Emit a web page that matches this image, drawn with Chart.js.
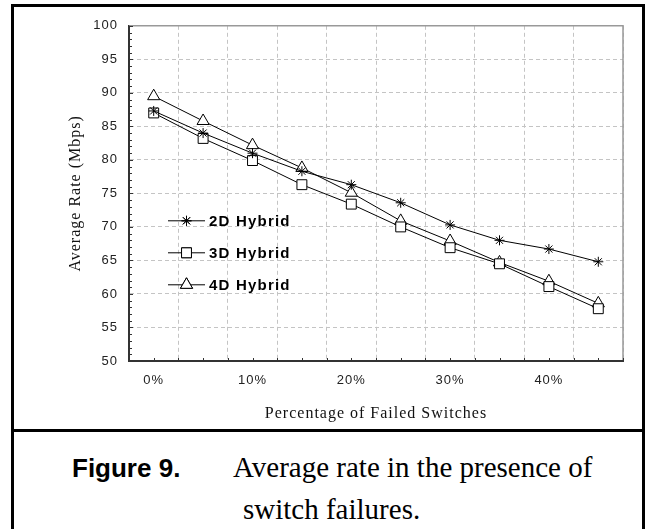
<!DOCTYPE html>
<html>
<head>
<meta charset="utf-8">
<script src="https://cdn.jsdelivr.net/npm/chart.js@4.4.1/dist/chart.umd.min.js"></script>
<style>
  body { margin: 0; background: #fff; width: 652px; height: 529px; overflow: hidden; position: relative; }
  #frame { position: absolute; left: 11px; top: 4px; width: 628px; height: 560px; border: 3px solid #000; }
  #sep { position: absolute; left: 11px; top: 429px; width: 634px; height: 3px; background: #000; }
  #chart { position: absolute; left: 14px; top: 7px; }
  .cap { position: absolute; line-height: 1; white-space: nowrap; color: #000; }
  #fig { left: 72px; top: 453px; font: bold 26px "Liberation Sans", Arial, sans-serif; }
  #l1 { left: 233px; top: 451px; font: 29px "Liberation Serif", "Times New Roman", serif; }
  #l2 { left: 243px; top: 493px; font: 29px "Liberation Serif", "Times New Roman", serif; }
</style>
</head>
<body>
<div id="frame"></div>
<div id="sep"></div>
<canvas id="chart" width="628" height="422"></canvas>
<div class="cap" id="fig">Figure 9.</div>
<div class="cap" id="l1">Average rate in the presence of</div>
<div class="cap" id="l2">switch failures.</div>
<script>
const categories = ['0%', '5%', '10%', '15%', '20%', '25%', '30%', '35%', '40%', '45%'];
const hybrid2D = [87.3, 84.0, 81.0, 78.3, 76.3, 73.6, 70.3, 68.0, 66.7, 64.8];
const hybrid3D = [87.0, 83.2, 79.9, 76.3, 73.4, 70.0, 66.9, 64.5, 61.1, 57.8];
const hybrid4D = [89.5, 85.8, 82.2, 78.8, 75.1, 70.9, 67.9, 64.7, 61.9, 58.6];

const scaleText = {
    id: 'scaleText',
    beforeDraw(chart) { chart.ctx.letterSpacing = '1px'; },
    beforeDatasetsDraw(chart) { chart.ctx.letterSpacing = '0px'; }
};

// minor ticks and plot frame
const frameTicks = {
    id: 'frameTicks',
    afterDatasetsDraw(chart) {
        const ctx = chart.ctx;
        const a = chart.chartArea;
        const x = chart.scales.x, y = chart.scales.y;
        ctx.save();
        ctx.strokeStyle = '#999';
        ctx.lineWidth = 1.5;
        ctx.beginPath();
        ctx.moveTo(a.left, a.top); ctx.lineTo(a.right, a.top); ctx.lineTo(a.right, a.bottom);
        ctx.stroke();
        ctx.strokeStyle = '#333';
        ctx.lineWidth = 1;
        ctx.beginPath();
        for (let v = 50; v <= 100; v++) {
            const py = Math.round(y.getPixelForValue(v)) + 0.5;
            ctx.moveTo(a.left, py); ctx.lineTo(a.left + (v % 5 === 0 ? 4 : 3), py);
        }
        for (let i = -0.5; i <= categories.length - 0.5; i += 0.5) {
            const px = Math.round(x.getPixelForValue(i)) + 0.5;
            ctx.moveTo(px, a.bottom); ctx.lineTo(px, a.bottom - 3);
        }
        ctx.stroke();
        ctx.lineWidth = 2;
        ctx.beginPath();
        ctx.moveTo(a.left, a.top); ctx.lineTo(a.left, a.bottom); ctx.lineTo(a.right, a.bottom);
        ctx.stroke();
        ctx.restore();
    }
};

// legend drawn inside the plot, left side
const innerLegend = {
    id: 'innerLegend',
    afterDraw(chart) {
        const ctx = chart.ctx;
        const a = chart.chartArea;
        ctx.save();
        ctx.font = 'bold 15px "Liberation Sans", Arial, sans-serif';
        ctx.letterSpacing = '1.2px';
        ctx.textBaseline = 'middle';
        ctx.fillStyle = '#000';
        chart.data.datasets.forEach((ds, i) => {
            const x0 = a.left + 39, yy = a.top + 195 + i * 32;
            ctx.strokeStyle = '#000';
            ctx.lineWidth = 1;
            ctx.beginPath();
            ctx.moveTo(x0, yy); ctx.lineTo(x0 + 37, yy);
            ctx.stroke();
            Chart.helpers.drawPoint(ctx, {
                pointStyle: ds.pointStyle, radius: ds.pointRadius, rotation: 0, borderWidth: 1
            }, x0 + 18.5, yy);
            ctx.fillStyle = '#fff';
            ctx.fill();
            ctx.stroke();
            ctx.fillStyle = '#000';
            ctx.fillText(ds.label, x0 + 41, yy + 1);
        });
        ctx.restore();
    }
};

function series(label, data, style, r) {
    return {
        label: label,
        data: data,
        borderColor: '#000',
        borderWidth: 1,
        backgroundColor: '#fff',
        pointStyle: style,
        pointRadius: r,
        pointHoverRadius: r,
        pointBorderColor: '#000',
        pointBackgroundColor: '#fff',
        pointBorderWidth: 1,
        tension: 0,
        fill: false
    };
}

new Chart(document.getElementById('chart'), {
    type: 'line',
    data: {
        labels: categories,
        datasets: [
            series('2D Hybrid', hybrid2D, 'star', 5),
            series('3D Hybrid', hybrid3D, 'rect', 7),
            series('4D Hybrid', hybrid4D, 'triangle', 7)
        ]
    },
    plugins: [scaleText, frameTicks, innerLegend],
    options: {
        responsive: false,
        animation: false,
        layout: { padding: { top: 16, right: 19, left: 0, bottom: 0 } },
        plugins: { legend: { display: false }, tooltip: { enabled: false } },
        scales: {
            x: {
                offset: true,
                grid: { offset: true, color: '#c4c4c4', lineWidth: 1, drawTicks: false },
                border: { color: '#333', width: 2, dash: [4, 3] },
                ticks: {
                    autoSkip: false, maxRotation: 0, padding: 12, color: '#222',
                    font: { family: '"Liberation Sans Narrow", "Liberation Sans", sans-serif', size: 13 },
                    callback: (v, i) => (i % 2 === 0 ? categories[i] : '')
                },
                title: {
                    display: true, text: 'Percentage of Failed Switches', color: '#111',
                    font: { family: '"Liberation Serif", "Times New Roman", serif', size: 16 },
                    padding: { top: 0, bottom: 6 }
                },
                afterFit: (s) => { s.height = 68; }
            },
            y: {
                min: 50, max: 100,
                grid: { color: '#c4c4c4', lineWidth: 1, drawTicks: false },
                border: { color: '#333', width: 2, dash: [4, 3] },
                ticks: {
                    stepSize: 5, padding: 11, color: '#222',
                    font: { family: '"Liberation Sans Narrow", "Liberation Sans", sans-serif', size: 13 }
                },
                title: {
                    display: true, text: 'Average Rate (Mbps)', color: '#111',
                    font: { family: '"Liberation Serif", "Times New Roman", serif', size: 16 },
                    padding: { top: 52, bottom: 0 }
                },
                afterFit: (s) => { s.width = 115; }
            }
        }
    }
});
</script>
</body>
</html>
